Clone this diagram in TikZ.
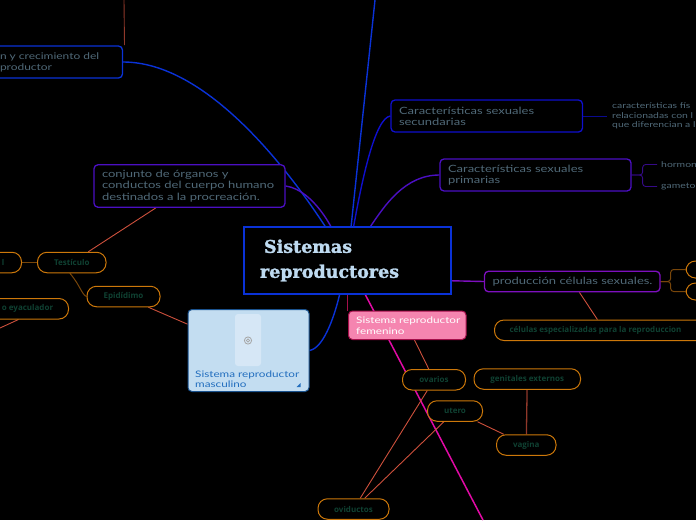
\documentclass[tikz,border=0pt]{standalone}
\usepackage{fontspec}
\usetikzlibrary{backgrounds}
\newfontfamily\boxfont[FakeStretch=1.3]{Lato}
\newfontfamily\titlefont[BoldFeatures={FakeBold=1.6}]{DejaVu Serif}
\newfontfamily\pillfont{Open Sans}
\definecolor{mapblue}{RGB}{10,50,215}
\definecolor{deepblue}{RGB}{15,15,205}
\definecolor{mapviolet}{RGB}{75,15,195}
\definecolor{prodviolet}{RGB}{125,15,190}
\definecolor{magentaline}{RGB}{225,10,165}
\definecolor{crimsonline}{RGB}{165,15,75}
\definecolor{redline}{RGB}{205,80,60}
\definecolor{pillorange}{RGB}{205,120,10}
\definecolor{pillbrown}{RGB}{120,70,10}
\definecolor{pilltext}{RGB}{15,65,50}
\definecolor{boxtext}{RGB}{80,105,120}
\definecolor{titletext}{RGB}{190,218,240}
\definecolor{skyfill}{RGB}{195,221,241}
\definecolor{skypanel}{RGB}{214,231,246}
\definecolor{skytext}{RGB}{35,110,190}
\definecolor{pinkfill}{RGB}{245,133,176}
\tikzset{
  mapbox/.style={draw=#1,line width=1.3pt,fill=black,rounded corners=4pt,inner xsep=8pt,inner ysep=0pt,
    align=left,text=boxtext,font=\boxfont\fontsize{10}{11.2}\selectfont},
  pillnode/.style={draw=pillorange,line width=1pt,fill=black,rounded corners=9.5pt,minimum height=20.5pt,
    inner sep=0pt,text=pilltext,font=\pillfont\bfseries\fontsize{8}{9}\selectfont},
  sidetext/.style={anchor=west,inner sep=0pt,align=left,text=boxtext,font=\boxfont\fontsize{8}{9.6}\selectfont},
  picturetext/.style={anchor=west,inner sep=0pt,align=left,font=\boxfont\fontsize{9}{10.2}\selectfont},
  linkline/.style={redline,line width=0.9pt},
  curveline/.style={#1,line width=1.4pt},
}
\begin{document}
\begin{tikzpicture}[x=1pt,y=-1pt]
  \useasboundingbox (0,0) rectangle (696,520);

  % Central topic
  \node[draw=mapblue,line width=1.6pt,fill=black,minimum width=207pt,minimum height=67pt,inner xsep=16pt,inner ysep=0pt,
    text width=175pt,align=left,text=titletext,font=\titlefont\bfseries\fontsize{17.5}{25}\selectfont]
    (central) at (347.5,260.5) {\hspace*{4pt}Sistemas\\reproductores};

  % Upper branches
  \node[mapbox=mapblue,minimum width=130.5pt,minimum height=32pt,text width=114.5pt,font=\boxfont\fontsize{9.2}{11.2}\selectfont] (crecimiento) at (57.25,62)
    {n y crecimiento del\\productor};
  \node[mapbox=mapviolet,minimum width=191pt,minimum height=42.5pt,text width=175pt] (conjunto) at (189.5,186)
    {conjunto de órganos y\\conductos del cuerpo humano\\destinados a la procreación.};
  \node[mapbox=deepblue,minimum width=191.5pt,minimum height=32pt,text width=175.5pt] (secundarias) at (486.75,116)
    {Características sexuales\\secundarias};
  \node[mapbox=mapviolet,minimum width=191pt,minimum height=32pt,text width=175pt] (primarias) at (535.5,175)
    {Características sexuales\\primarias};
  \node[mapbox=prodviolet,minimum width=175.5pt,minimum height=20.5pt,text width=159.5pt] (produccion) at (572.25,281.5)
    {\mbox{producción células sexuales.}};

  % Text without a box
  \node[sidetext] (fisicas) at (612,116) {características fís\\relacionadas con l\\que diferencian a l};
  \node[sidetext] (hormonas) at (661,164.5) {hormon};
  \node[sidetext] (gametos) at (661,186.5) {gameto};

  % Picture topics
  \node[draw=skytext!75!black,line width=1pt,fill=skyfill,rounded corners=4pt,minimum width=121pt,minimum height=82pt] (masculino) at (248.5,350.5) {};
  \fill[skypanel,rounded corners=3pt] (235,314) rectangle (261,366);
  \draw[gray!70,line width=0.8pt] (248,340.5) circle (3.6pt) (248,340.5) circle (1.6pt);
  \node[picturetext,text=skytext] (masculinotext) at (195,379)
    {Sistema reproductor\\masculino};
  \fill[skytext] (296.5,387) -- (300.5,387) -- (300.5,383) -- cycle;
  \node[draw=crimsonline,line width=1pt,fill=pinkfill,rounded corners=4pt,minimum width=117.5pt,minimum height=28.5pt] (femenino) at (407.25,325.25) {};
  \node[picturetext,text=white] (femeninotext) at (356,325.75) {Sistema reproductor\\femenino};

  % Orange detail nodes
  \node[pillnode,minimum width=68.5pt] (testiculo) at (71.75,262.5) {Testículo};
  \node[pillnode,minimum width=37pt] (lateral) at (3,262.5) {l};
  \node[pillnode,minimum width=73pt] (epididimo) at (123.5,296.5) {Epidídimo};
  \node[pillnode,minimum width=82pt] (eyaculador) at (27.5,308.75) {o eyaculador};
  \node[pillnode,minimum width=63pt] (ovarios) at (434,379.75) {ovarios};
  \node[pillnode,minimum width=106.5pt] (genitales) at (527.25,379) {genitales externos};
  \node[pillnode,minimum width=55pt] (utero) at (455,411) {utero};
  \node[pillnode,minimum width=59.5pt] (vagina) at (526.25,445) {vagina};
  \node[pillnode,minimum width=71pt] (oviductos) at (353.5,509) {oviductos};
  \node[pillnode,minimum width=220pt] (celulas) at (604.5,330.25) {\hspace*{-18pt}células especializadas para la reproduccion};
  \node[pillnode,minimum width=40pt,minimum height=17pt] (celulaup) at (706,269.5) {};
  \node[pillnode,minimum width=40pt,minimum height=17pt] (celuladown) at (706,291.5) {};

  % Free ends
  \coordinate (topend) at (375,0);
  \coordinate (pinkend) at (483,520);
  \coordinate (redend) at (124,0);
  \coordinate (redfoot) at (124.5,45);
  \coordinate (leftfoot) at (0,328);

  \begin{scope}[on background layer]
    \fill[black] (0,0) rectangle (696,520);
    % Main branches
    \draw[magentaline,line width=1.5pt] (central) -- (pinkend);
    \draw[curveline=mapblue] (central) -- (topend);
    \draw[curveline=mapblue] (crecimiento.east) .. controls (205,62) and (285,165) .. (central);
    \draw[curveline=mapviolet] (conjunto.east) .. controls (315,190) and (335,235) .. (central);
    \draw[curveline=deepblue] (secundarias.west) .. controls (375,118) and (362,180) .. (central);
    \draw[curveline=mapviolet] (primarias.west) .. controls (405,175) and (385,205) .. (central);
    \draw[curveline=prodviolet] (central.-11) -- (produccion.west);
    \draw[curveline=mapblue] (masculino.east) .. controls (325,348) and (336,310) .. (central);
    \draw[crimsonline,line width=1.2pt] (central.south) -- (central.south |- femenino.north);
    % Red links
    \draw[linkline,redline!70!black] (redend) -- (redfoot);
    \draw[linkline] (conjunto) -- (testiculo);
    \draw[linkline] (masculino) -- (epididimo);
    \draw[linkline] (eyaculador.-130) -- (leftfoot);
    \draw[linkline] (produccion) -- (celulas);
    \draw[linkline] (femenino) -- (ovarios);
    \draw[linkline] (ovarios) -- (oviductos);
    \draw[linkline] (utero) -- (oviductos);
    \draw[linkline] (utero) -- (vagina);
    \draw[linkline,redline!70!black,line width=1.3pt] (genitales) -- (vagina);
    % Brown links and brackets
    \draw[pillbrown,line width=1pt] (lateral) -- (testiculo);
    \draw[pillbrown,line width=1pt] (testiculo.-100) .. controls (80,285) and (82,295) .. (epididimo.west);
    \draw[deepblue!70!black,line width=0.9pt] (secundarias.east) -- ([xshift=-5pt]fisicas.west);
    \foreach \tip in {hormonas,gametos}{
      \draw[mapviolet!70!black,line width=0.9pt,rounded corners=3pt] (primarias.east) -- ++(11,0) |- ([xshift=-4pt]\tip.west);
    }
    \foreach \tip in {celulaup,celuladown}{
      \draw[pillbrown,line width=1pt,rounded corners=3pt] (produccion.east) -- ++(10,0) |- (\tip.west);
    }
  \end{scope}
\end{tikzpicture}
\end{document}
